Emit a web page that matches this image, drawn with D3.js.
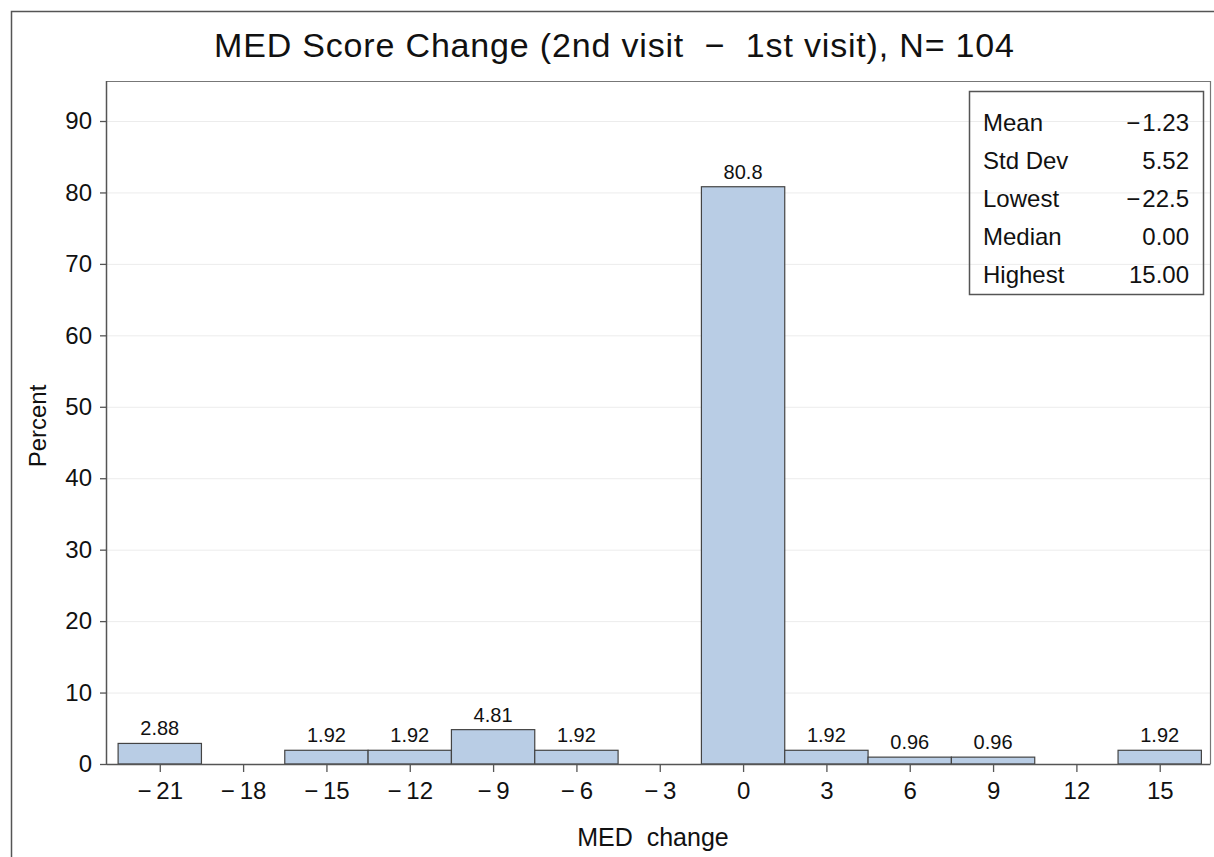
<!DOCTYPE html>
<html>
<head>
<meta charset="utf-8">
<script src="https://cdn.jsdelivr.net/npm/d3@7"></script>
<style>
  html, body { margin: 0; padding: 0; background: #fff; }
  svg { display: block; font-family: "Liberation Sans", Arial, sans-serif; }
</style>
</head>
<body>
<svg id="chart" width="1214" height="857"></svg>
<script>
// ---- Data ----
const binCenters = [-21, -18, -15, -12, -9, -6, -3, 0, 3, 6, 9, 12, 15];
const percents   = [2.88, 0, 1.92, 1.92, 4.81, 1.92, 0, 80.8, 1.92, 0.96, 0.96, 0, 1.92];
const barLabels  = ["2.88", "", "1.92", "1.92", "4.81", "1.92", "", "80.8", "1.92", "0.96", "0.96", "", "1.92"];
const binWidth = 3;
const xTickValues = [-21, -18, -15, -12, -9, -6, -3, 0, 3, 6, 9, 12, 15];
const yTickValues = [0, 10, 20, 30, 40, 50, 60, 70, 80, 90];
const statNames  = ["Mean", "Std Dev", "Lowest", "Median", "Highest"];
const statValues = ["\u2212\u200a1.23", "5.52", "\u2212\u200a22.5", "0.00", "15.00"];
const titleText = "MED Score Change (2nd visit  \u2212  1st visit), N= 104";
const xLabel = "MED  change";
const yLabel = "Percent";

// ---- Layout ----
const svg = d3.select("#chart");
const plot = { left: 107, right: 1210, top: 81, bottom: 764 };

const x = d3.scaleLinear().domain([-22.9, 16.81]).range([plot.left, plot.right]);
const y = d3.scaleLinear().domain([0, 95.6]).range([plot.bottom, plot.top]);

const fmtTick = v => v < 0 ? "\u2212\u2009" + Math.abs(v) : String(v);

// outer border
svg.append("path")
  .attr("d", `M11.5,${900} V11.5 H${1300}`)
  .attr("fill", "none").attr("stroke", "#555").attr("stroke-width", 1.5);

// title
svg.append("text")
  .attr("x", 614).attr("y", 57)
  .attr("text-anchor", "middle")
  .attr("font-size", 34)
  .attr("fill", "#111")
  .attr("textLength", 800)
  .attr("lengthAdjust", "spacing")
  .attr("xml:space", "preserve")
  .style("white-space", "pre")
  .text(titleText);

// gridlines
svg.append("g").selectAll("line").data(yTickValues.filter(d => d > 0)).join("line")
  .attr("x1", plot.left).attr("x2", plot.right)
  .attr("y1", d => y(d) + 0.5).attr("y2", d => y(d) + 0.5)
  .attr("stroke", "#ececec").attr("stroke-width", 1);

// frame (top/right)
svg.append("path")
  .attr("d", `M${plot.left},${plot.top + 0.5} H${plot.right + 0.5} V${plot.bottom}`)
  .attr("fill", "none").attr("stroke", "#777").attr("stroke-width", 1.2);

// bars
const barData = binCenters.map((c, i) => ({ c, p: percents[i], l: barLabels[i] }));
svg.append("g").selectAll("rect")
  .data(barData.filter(d => d.p > 0))
  .join("rect")
  .attr("x", d => x(d.c - binWidth / 2))
  .attr("width", d => x(d.c + binWidth / 2) - x(d.c - binWidth / 2))
  .attr("y", d => y(d.p))
  .attr("height", d => y(0) - y(d.p))
  .attr("fill", "#b9cde5")
  .attr("stroke", "#444").attr("stroke-width", 1.2);

// bar labels
svg.append("g").selectAll("text")
  .data(barData.filter(d => d.l !== ""))
  .join("text")
  .attr("x", d => x(d.c))
  .attr("y", d => y(d.p) - 8)
  .attr("text-anchor", "middle")
  .attr("font-size", 20)
  .attr("fill", "#111")
  .text(d => d.l);

// x axis
const xAxis = d3.axisBottom(x).tickValues(xTickValues).tickSize(8).tickPadding(10).tickFormat(fmtTick);
const gx = svg.append("g").attr("transform", `translate(0,${plot.bottom})`).call(xAxis);
gx.select(".domain").attr("d", `M${plot.left},0.5H${plot.right + 0.5}`).attr("stroke", "#555").attr("stroke-width", 1.5);
gx.selectAll(".tick line").attr("stroke", "#555").attr("stroke-width", 1.3);
gx.selectAll(".tick text").attr("font-size", 24).attr("fill", "#111").attr("font-family", "Liberation Sans, Arial, sans-serif");

// y axis
const yAxis = d3.axisLeft(y).tickValues(yTickValues).tickSize(7).tickPadding(8).tickFormat(fmtTick);
const gy = svg.append("g").attr("transform", `translate(${plot.left},0)`).call(yAxis);
gy.select(".domain").attr("d", `M-0.5,${plot.top}V${plot.bottom + 0.5}`).attr("stroke", "#555").attr("stroke-width", 1.5);
gy.selectAll(".tick line").attr("stroke", "#555").attr("stroke-width", 1.3);
gy.selectAll(".tick text").attr("font-size", 24).attr("fill", "#111").attr("font-family", "Liberation Sans, Arial, sans-serif");

// axis labels
svg.append("text")
  .attr("x", 653).attr("y", 846)
  .attr("text-anchor", "middle").attr("font-size", 25).attr("fill", "#111")
  .attr("xml:space", "preserve").style("white-space", "pre")
  .text(xLabel);
svg.append("text")
  .attr("transform", `translate(46,${426}) rotate(-90)`)
  .attr("text-anchor", "middle").attr("font-size", 24).attr("fill", "#111")
  .text(yLabel);

// stats inset
const inset = { left: 969, right: 1203, top: 91, bottom: 294 };
svg.append("rect")
  .attr("x", inset.left + 0.5).attr("y", inset.top + 0.5)
  .attr("width", inset.right - inset.left).attr("height", inset.bottom - inset.top)
  .attr("fill", "none").attr("stroke", "#555").attr("stroke-width", 1.5);
const rowY = d3.scalePoint().domain(statNames).range([122, 274]);
const gs = svg.append("g");
gs.selectAll("text.name").data(statNames).join("text")
  .attr("class", "name")
  .attr("x", 983).attr("y", d => rowY(d)).attr("dy", "0.36em")
  .attr("font-size", 24).attr("fill", "#111")
  .text(d => d);
gs.selectAll("text.val").data(statNames).join("text")
  .attr("class", "val")
  .attr("x", 1189).attr("y", d => rowY(d)).attr("dy", "0.36em")
  .attr("text-anchor", "end")
  .attr("font-size", 24).attr("fill", "#111")
  .text((d, i) => statValues[i]);
</script>
</body>
</html>
